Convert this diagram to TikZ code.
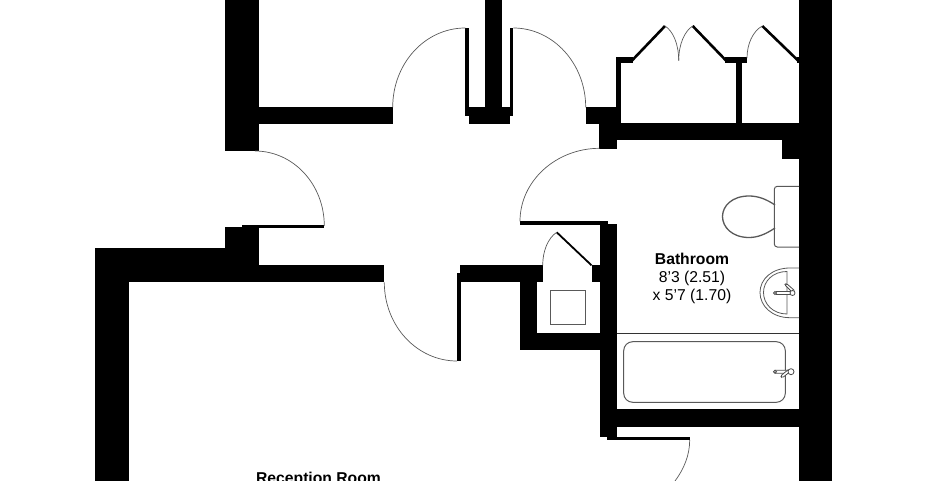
\documentclass[tikz,border=0pt]{standalone}
\usepackage{fontspec}
\setmainfont{Liberation Sans}
\usepackage{tikz}
\tikzset{wall/.style={fill=black,draw=none}}
\tikzset{leaf/.style={draw=black,line width=1.7pt}}
\tikzset{swing/.style={draw=black!65,line width=0.7pt}}
\tikzset{fitting/.style={draw=black!65,line width=1pt}}
\tikzset{room/.style={align=center,font=\fontsize{15.7}{17.7}\selectfont,inner sep=0pt}}
\tikzset{tap/.style={draw=black!70,fill=white,line width=0.8pt,rounded corners=1.5pt}}

\begin{document}
\begin{tikzpicture}[x=1pt,y=-1pt]
    \useasboundingbox (0,0) rectangle (945,481);

    % outer walls
    \fill[wall] (799,0) rectangle (832.3,481);
    \fill[wall] (225.3,0) rectangle (259,151);
    \fill[wall] (225.3,227.3) rectangle (259,282.3);
    \fill[wall] (94.7,248.3) rectangle (259,282.3);
    \fill[wall] (94.7,248.3) rectangle (128.7,481);

    % inner walls
    \fill[wall] (259,107.3) rectangle (392.7,124.3);
    \fill[wall] (485.3,0) rectangle (501.7,116);
    \fill[wall] (465.3,107.3) rectangle (513.3,116);
    \fill[wall] (468.7,116) rectangle (510,124.3);
    \fill[wall] (585.7,107.3) rectangle (620.7,124.3);
    \fill[wall] (599.3,123.3) rectangle (616.7,148.7);
    \fill[wall] (599.3,123.3) rectangle (799,140);
    \fill[wall] (782.3,140) rectangle (799,159.3);
    \fill[wall] (259,265.3) rectangle (384.3,282.3);
    \fill[wall] (460.3,265.3) rectangle (542.7,282.3);
    \fill[wall] (520,282.3) rectangle (537.3,350.3);
    \fill[wall] (520,333.3) rectangle (600,350.3);
    \fill[wall] (591.7,265.3) rectangle (600,282.3);
    \fill[wall] (599.7,224) rectangle (616.7,436.7);
    \fill[wall] (616,409.3) rectangle (799,426.7);

    % cupboards
    \fill[wall] (616,57.3) rectangle (621.3,124);
    \fill[wall] (616,57.3) rectangle (633,63.3);
    \fill[wall] (725.3,57.3) rectangle (746.7,63.3);
    \fill[wall] (736,57.3) rectangle (741.7,124);
    \fill[wall] (797,57.3) rectangle (799,63.3);
    \draw[leaf,line width=2.6pt] (632,60.5) -- (665,26);
    \draw[leaf,line width=2.6pt] (692.7,26) -- (726,60.5);
    \draw[leaf,line width=2.6pt] (762.3,26) -- (798,60.5);
    \draw[swing] (665,26) .. controls (673,31) and (678.7,44) .. (678.7,60.7);
    \draw[swing] (692.7,26) .. controls (684.7,31) and (678.7,44) .. (678.7,60.7);
    \draw[swing] (762.3,26) .. controls (753,31) and (747,44) .. (747,58);

    % doors
    \fill[wall] (465.3,28) rectangle (469.3,108);
    \fill[wall] (509.7,28) rectangle (513.3,108);
    \draw[swing] (392.7,107.3) .. controls (392.7,63.5) and (425,28) .. (465.3,28);
    \draw[swing] (513.3,28) .. controls (553,28) and (585.7,63.5) .. (585.7,107.3);
    \fill[wall] (242.3,225.3) rectangle (324.3,227.7);
    \draw[swing] (255,151) .. controls (293,151) and (324.3,184) .. (324.3,226);
    \fill[wall] (457,273.3) rectangle (461.3,361.3);
    \draw[swing] (384.3,282.3) .. controls (384.3,326) and (417,361) .. (457,361);
    \fill[wall] (520,221.3) rectangle (608.3,225);
    \draw[swing] (599.7,148.3) .. controls (556,148.3) and (520,181) .. (520,221.3);
    \fill[wall] (607.3,436.7) rectangle (690,440);
    \draw[swing] (689.7,440) .. controls (689.7,455) and (684,469) .. (675,481);

    % airing cupboard
    \draw[leaf,line width=1.8pt] (556.7,232.3) -- (591.5,265.3);
    \draw[swing] (556.7,232.3) .. controls (548,238) and (542.7,251) .. (542.7,265.3);
    \draw[fitting] (550.7,290) rectangle (585.7,324.3);

    % wc
    \draw[fitting,rounded corners=3pt] (799,186.3) -- (774.3,186.3) -- (774.3,247) -- (799,247);
    \draw[fitting,line width=1.3pt] (775,205) .. controls (766,199) and (758,196) .. (749,196)
        .. controls (732,196) and (722.5,206) .. (722.5,216.5)
        .. controls (722.5,227) and (732,237.5) .. (749,237.5)
        .. controls (758,237.5) and (766,234) .. (775,228);

    % basin
    \draw[fitting,line width=0.8pt] (799,268) -- (790,268) .. controls (772,268) and (760,279) .. (760,292.5)
        .. controls (760,306) and (772,317.7) .. (790,317.7) -- (799,317.7);
    \draw[fitting,line width=0.8pt] (787,271.5) .. controls (773,271.5) and (763.5,281) .. (763.5,292.5)
        .. controls (763.5,304) and (773,314) .. (787,314) -- cycle;
    \draw[tap] (775,291.5) rectangle (794,294.5);
    \draw[tap] (784.5,284.5) -- (786.5,283.5) -- (795,291) -- (793,293) -- cycle;
    \draw[tap,fill=white,rounded corners=0pt] (792.5,293) circle (2.5);
    \draw[tap] (775,293) circle (1.5);

    % bath
    \draw[draw=black!80,line width=0.8pt] (616.7,333.3) -- (799,333.3);
    \draw[fitting,rounded corners=9pt] (623.7,341.7) rectangle (785.3,402.3);
    \draw[tap] (774,370.3) rectangle (791,373.3);
    \draw[tap] (782,378) -- (780.5,376) -- (789,369) -- (791,371) -- cycle;
    \draw[tap,rounded corners=0pt] (791,371.7) circle (3);
    \draw[tap,rounded corners=0pt] (775,371.7) circle (1.5);

    % labels
    \node[room] (bathroom) at (692,278.3) {\textbf{Bathroom}\\8'3 (2.51)\\x 5'7 (1.70)};
    \node[room,anchor=base] (reception) at (318.5,483) {\textbf{Reception Room}};
\end{tikzpicture}
\end{document}
